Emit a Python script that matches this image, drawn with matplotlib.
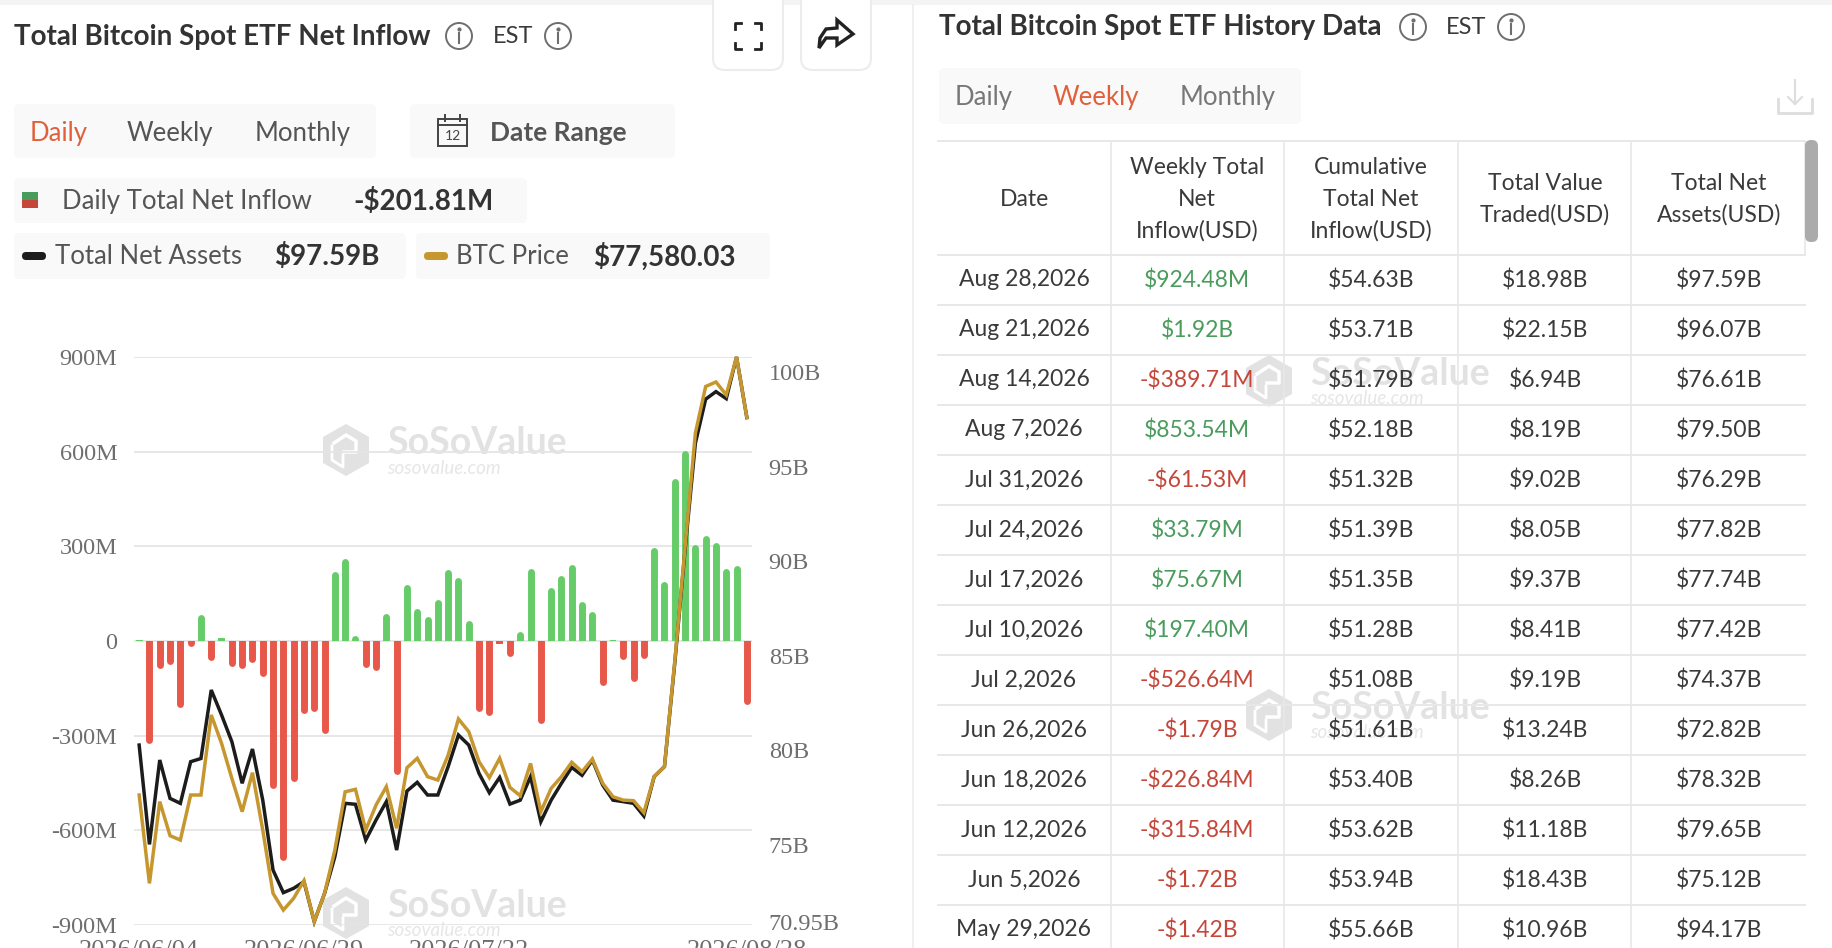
import numpy as np
import matplotlib
matplotlib.use("Agg")
import matplotlib.pyplot as plt
from matplotlib.patches import FancyBboxPatch, Rectangle, Circle, Polygon

# daily net inflow in millions USD
daily_inflow = [3, -325, -88, -74, -212, -17, 83, -61, 8, -80, -88, -67, -111, -468, -697,
                -444, -229, -223, -293, 219, 263, 19, -83, -93, 87, -424, 178, 104, 77, 130,
                226, 200, 66, -223, -237, -8, -48, 30, 229, -263, 168, 208, 242, 125, 95,
                -141, 3, -58, -129, -55, 295, 187, 515, 605, 306, 335, 312, 229, 239, -201.81]
net_assets = [80.28, 75.03, 79.49, 77.46, 77.20, 79.40, 79.57, 83.19, 81.87, 80.46, 78.26, 80.07,
              77.37, 73.67, 72.48, 72.71, 73.06, 70.95, 72.44, 74.38, 77.20, 77.15, 75.26, 76.32,
              77.29, 74.73, 77.85, 78.31, 77.64, 77.64, 79.14, 80.81, 80.28, 78.78, 77.76, 78.57,
              77.16, 77.37, 78.61, 76.23, 77.37, 78.26, 79.10, 78.68, 79.49, 78.17, 77.37, 77.29,
              77.20, 76.53, 78.61, 79.14, 84.60, 90.60, 96.23, 98.56, 98.96, 98.59, 100.79, 97.59]
# BTC price has its own hidden scale in the original, these are its heights on the assets axis
btc_on_assets_axis = [77.64, 72.97, 77.29, 75.49, 75.26, 77.64, 77.64, 81.87, 80.37, 78.52, 76.76,
                      78.82, 75.79, 72.44, 71.56, 72.18, 73.11, 70.95, 72.44, 74.73, 77.81, 77.94,
                      75.79, 77.11, 78.08, 75.88, 79.08, 79.58, 78.61, 78.43, 79.75, 81.66, 80.99,
                      79.40, 78.56, 79.58, 78.04, 77.60, 79.31, 76.76, 77.99, 78.61, 79.37, 78.87,
                      79.54, 78.26, 77.55, 77.37, 77.34, 76.71, 78.61, 79.14, 84.70, 90.75, 96.76,
                      99.23, 99.47, 98.79, 100.79, 97.59]
x_tick_pos = [0, 16, 32, 59]
x_tick_labels = ["2026/06/04", "2026/06/29", "2026/07/22", "2026/08/28"]
left_ticks = [-900, -600, -300, 0, 300, 600, 900]
left_labels = ["-900M", "-600M", "-300M", "0", "300M", "600M", "900M"]
right_ticks = [70.95, 75, 80, 85, 90, 95, 100]
right_labels = ["70.95B", "75B", "80B", "85B", "90B", "95B", "100B"]

table_head = [["Date"], ["Weekly Total", "Net", "Inflow(USD)"], ["Cumulative", "Total Net", "Inflow(USD)"],
              ["Total Value", "Traded(USD)"], ["Total Net", "Assets(USD)"]]
table_dates = ["Aug 28,2026", "Aug 21,2026", "Aug 14,2026", "Aug 7,2026", "Jul 31,2026", "Jul 24,2026",
               "Jul 17,2026", "Jul 10,2026", "Jul 2,2026", "Jun 26,2026", "Jun 18,2026", "Jun 12,2026",
               "Jun 5,2026", "May 29,2026"]
table_weekly = ["$924.48M", "$1.92B", "-$389.71M", "$853.54M", "-$61.53M", "$33.79M", "$75.67M",
                "$197.40M", "-$526.64M", "-$1.79B", "-$226.84M", "-$315.84M", "-$1.72B", "-$1.42B"]
table_cumul = ["$54.63B", "$53.71B", "$51.79B", "$52.18B", "$51.32B", "$51.39B", "$51.35B",
               "$51.28B", "$51.08B", "$51.61B", "$53.40B", "$53.62B", "$53.94B", "$55.66B"]
table_traded = ["$18.98B", "$22.15B", "$6.94B", "$8.19B", "$9.02B", "$8.05B", "$9.37B",
                "$8.41B", "$9.19B", "$13.24B", "$8.26B", "$11.18B", "$18.43B", "$10.96B"]
table_assets = ["$97.59B", "$96.07B", "$76.61B", "$79.50B", "$76.29B", "$77.82B", "$77.74B",
                "$77.42B", "$74.37B", "$72.82B", "$78.32B", "$79.65B", "$75.12B", "$94.17B"]

W, H = 1832, 948
plt.rcParams['font.family'] = ['Lato', 'DejaVu Sans']
DARK = '#3a3a3a'
MID = '#555555'
GREY = '#6e6e6e'
ORANGE = '#e0603c'
GREEN = '#4a9c5d'
RED = '#c4473a'
BAR_GREEN = '#66cc6a'
BAR_RED = '#e8584a'
GOLD = '#c6962f'
LINE = '#e8e8e8'
WM = '#e2e2e2'

fig = plt.figure(figsize=(W / 100, H / 100), dpi=100)
bg = fig.add_axes([0, 0, 1, 1])
bg.set_xlim(0, W)
bg.set_ylim(H, 0)
bg.axis('off')


def panel(x0, x1, y0, y1, fc='#f9f9f9', ec='none', r=5, lw=1, z=1):
    bg.add_patch(FancyBboxPatch((x0 + r, y0 + r), x1 - x0 - 2 * r, y1 - y0 - 2 * r,
                                boxstyle="round,pad=%d,rounding_size=%d" % (r, r),
                                fc=fc, ec=ec, lw=lw, zorder=z))


def label(x, y, s, size=16, color=DARK, ha='left', weight='normal', z=5):
    bg.text(x, y, s, fontsize=size, color=color, ha=ha, va='center', fontweight=weight, zorder=z)


def info_icon(x, y):
    bg.add_patch(Circle((x, y), 13, fc='none', ec=GREY, lw=1.4, zorder=5))
    bg.plot([x, x], [y - 3, y + 7], color=GREY, lw=1.5, zorder=5)
    bg.plot([x], [y - 7], 'o', ms=2, color=GREY, zorder=5)


def watermark(x, y, big, small, size):
    # hexagon logo with a notch, then the name and the site
    r = 26
    hexa = [(x, y - r), (x + 23, y - r / 2), (x + 23, y + r / 2), (x, y + r), (x - 23, y + r / 2), (x - 23, y - r / 2)]
    bg.add_patch(Polygon(hexa, closed=True, fc=WM, ec='none', zorder=2))
    bg.plot([x - 12, x, x + 10, x + 10, x - 2], [y - 7, y - 15, y - 9, y + 2, y + 2], color='white', lw=2.5, zorder=2)
    bg.plot([x - 14, x - 14, x - 3, x - 3], [y - 4, y + 10, y + 17, y + 5], color='white', lw=2, zorder=2)
    bg.text(big, y - 7, "SoSoValue", fontsize=size, fontweight='bold', color=WM, va='center', zorder=2)
    bg.text(small, y + 18, "sosovalue.com", fontsize=size * 0.5, style='italic', color='#e6e6e6', va='center', zorder=2)


# page chrome
bg.add_patch(Rectangle((0, 0), W, 5, fc='#f4f4f4', ec='none'))
bg.plot([913, 913], [5, H], color='#ececec', lw=1.2)

# left header
label(14, 37, "Total Bitcoin Spot ETF Net Inflow", 20, '#333333', weight='bold')
info_icon(459, 36)
label(493, 36, "EST", 17, DARK)
info_icon(558, 36)
panel(713, 783, -20, 70, fc='white', ec='#ececec', r=12, lw=1.5)
panel(801, 871, -20, 70, fc='white', ec='#ececec', r=12, lw=1.5)
for sx, sy in [(-1, -1), (1, -1), (-1, 1), (1, 1)]:
    cx, cy = 748 + sx * 13, 36 + sy * 13
    bg.plot([cx - sx * 6, cx, cx], [cy, cy, cy - sy * 6], color='#222222', lw=2, zorder=5)
bg.add_patch(Polygon([(837, 20), (853, 34), (837, 45), (837, 38), (826, 38), (819, 48), (820, 38), (826, 29), (837, 28)],
                     closed=True, fc='white', ec='#222222', lw=2.4, zorder=5))

panel(14, 376, 104, 158)
label(30, 133, "Daily", 18.5, ORANGE)
label(127, 133, "Weekly", 18.5, MID)
label(255, 133, "Monthly", 18.5, MID)
panel(410, 675, 104, 158)
bg.add_patch(Rectangle((438, 119), 29, 27, fc='none', ec='#444444', lw=1.4, zorder=5))
bg.plot([438, 467], [125, 125], color='#444444', lw=1.4, zorder=5)
bg.plot([445, 445], [115, 121], color='#444444', lw=1.4, zorder=5)
bg.plot([460, 460], [115, 121], color='#444444', lw=1.4, zorder=5)
label(452.5, 136, "12", 10, '#444444', ha='center')
label(490, 133, "Date Range", 19, MID, weight='bold')

panel(14, 527, 178, 223)
bg.add_patch(Rectangle((22, 192), 16, 8, fc=GREEN, ec='none', zorder=5))
bg.add_patch(Rectangle((22, 200), 16, 8, fc=RED, ec='none', zorder=5))
label(62, 201, "Daily Total Net Inflow", 18.5, MID)
label(353, 201, "-$201.81M", 20, '#333333', weight='bold')
panel(14, 406, 233, 279)
panel(416, 770, 233, 279)
panel(22, 46, 252, 260, fc='#1c1c1c', r=4, z=5)
label(55, 257, "Total Net Assets", 18.5, MID)
label(274, 257, "$97.59B", 20, '#333333', weight='bold')
panel(424, 448, 252, 260, fc=GOLD, r=4, z=5)
label(456, 257, "BTC Price", 18.5, MID)
label(593, 257, "$77,580.03", 20, '#333333', weight='bold')

# right header
label(939, 27, "Total Bitcoin Spot ETF History Data", 20, '#333333', weight='bold')
info_icon(1413, 27)
label(1446, 27, "EST", 17, DARK)
info_icon(1511, 27)
panel(939, 1301, 68, 124)
label(955, 97, "Daily", 18.5, '#777777')
label(1053, 97, "Weekly", 18.5, ORANGE)
label(1180, 97, "Monthly", 18.5, '#777777')
bg.plot([1795, 1795], [80, 104], color='#dddddd', lw=1.5, zorder=5)
bg.plot([1788, 1795, 1802], [97, 104, 97], color='#dddddd', lw=1.5, zorder=5)
bg.plot([1778, 1778, 1812, 1812], [99, 113, 113, 99], color='#dddddd', lw=2, zorder=5)

# table
col_lines = [1111, 1284, 1458, 1631, 1805]
col_mid = [1024, 1197, 1371, 1545, 1719]
head_top, head_bot = 141, 255
row_h = 50
bg.plot([938, 1805], [head_top, head_top], color=LINE, lw=1.4, zorder=3)
for i in range(len(table_dates) + 1):
    y = head_bot + i * row_h
    bg.plot([938, 1805], [y, y], color=LINE, lw=1.4, zorder=3)
for i, xl in enumerate(col_lines):
    bg.plot([xl, xl], [head_top, H if i < 4 else head_bot], color=LINE, lw=1.2, zorder=3)
panel(1805, 1818, 140, 242, fc='#ababab', r=6, z=4)
for xm, lines in zip(col_mid, table_head):
    n = len(lines)
    for k, s in enumerate(lines):
        label(xm, 199 + (k - (n - 1) / 2) * 32, s, 16.5, DARK, ha='center')
for i in range(len(table_dates)):
    y = head_bot + (i + 0.5) * row_h
    label(col_mid[0], y, table_dates[i], 16.5, DARK, ha='center')
    v = table_weekly[i]
    label(col_mid[1], y, v, 16.5, RED if v.startswith('-') else GREEN, ha='center')
    label(col_mid[2], y, table_cumul[i], 16.5, DARK, ha='center')
    label(col_mid[3], y, table_traded[i], 16.5, DARK, ha='center')
    label(col_mid[4], y, table_assets[i], 16.5, DARK, ha='center')

watermark(346, 450, 387, 387, 27)
watermark(346, 913, 387, 387, 27)
watermark(1269, 381, 1310, 1310, 27)
watermark(1269, 715, 1310, 1310, 27)

# chart
ax = fig.add_axes([134 / W, 1 - 925 / H, 618 / W, 568 / H], zorder=2)
ax.patch.set_visible(False)
x = np.arange(len(daily_inflow))
v = np.array(daily_inflow, dtype=float)
cap = 3.5 * 1800 / 568  # round cap radius in axis units
tiny = np.abs(v) < cap
up = (v > 0) & ~tiny
down = (v < 0) & ~tiny
ax.set_xlim(-0.5, 59.5)
ax.set_ylim(-900, 900)
ax.bar(x[tiny], v[tiny], width=0.66, color=[BAR_GREEN if t > 0 else BAR_RED for t in v[tiny]], zorder=3)
g = ax.vlines(x[up], 0, v[up] - cap, color=BAR_GREEN, lw=5, capstyle='round', zorder=3)
r = ax.vlines(x[down], 0, v[down] + cap, color=BAR_RED, lw=5, capstyle='round', zorder=3)
g.set_clip_path(Rectangle((-0.5, 0), 60, 900, transform=ax.transData))
r.set_clip_path(Rectangle((-0.5, -900), 60, 900, transform=ax.transData))
ax.set_yticks(left_ticks)
ax.set_yticklabels(left_labels, fontfamily='Liberation Serif', fontsize=17.5, color=GREY)
ax.set_xticks(x_tick_pos)
ax.set_xticklabels(x_tick_labels, fontfamily='Liberation Serif', fontsize=19, color=GREY)
ax.tick_params(axis='y', length=0, pad=12)
ax.tick_params(axis='x', length=0, pad=11)
ax.grid(axis='y', color='#e5e5e5', lw=1.3, zorder=0)
ax.set_axisbelow(True)
for s in ax.spines.values():
    s.set_visible(False)

ax2 = ax.twinx()
ax2.set_zorder(3)
ax2.patch.set_visible(False)
ax2.set_ylim(70.77, 100.79)
ax2.plot(x, net_assets, color='#1c1c1c', lw=2.5, solid_joinstyle='miter', clip_on=False, zorder=4)
ax2.plot(x, btc_on_assets_axis, color=GOLD, lw=2.5, solid_joinstyle='miter', clip_on=False, zorder=5)
ax2.set_yticks(right_ticks)
ax2.set_yticklabels(right_labels, fontfamily='Liberation Serif', fontsize=17.5, color=GREY)
ax2.tick_params(axis='y', length=0, pad=12)
for s in ax2.spines.values():
    s.set_visible(False)

fig.savefig("out.png", dpi=100)
